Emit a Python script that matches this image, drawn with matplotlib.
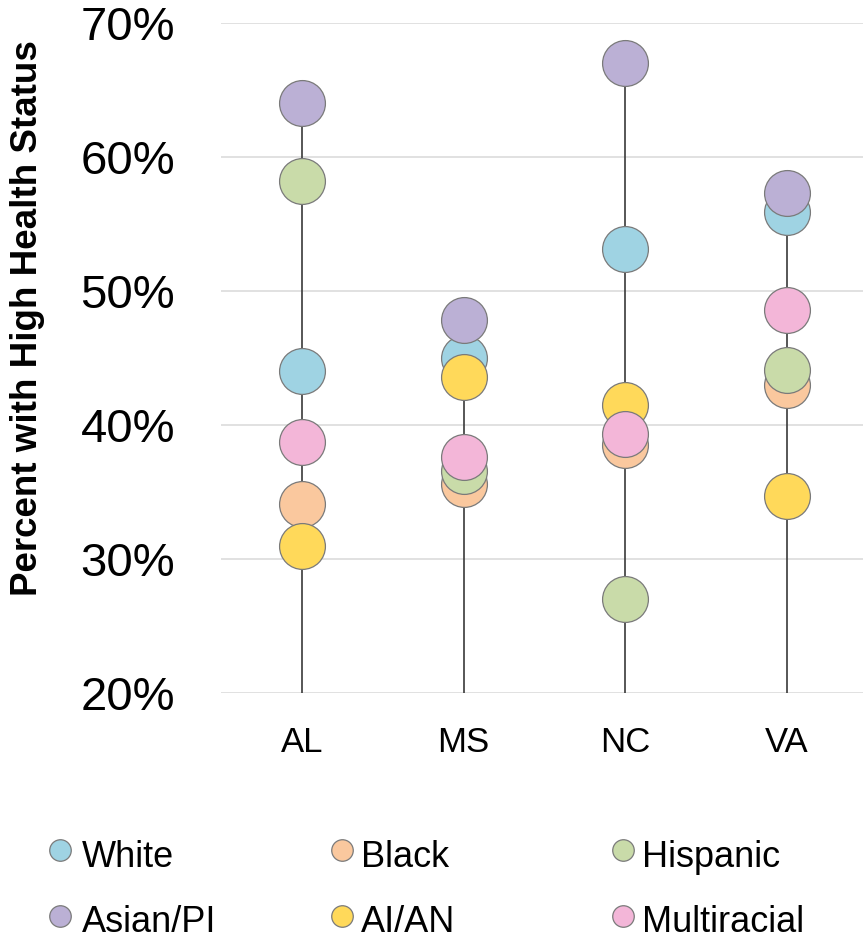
import matplotlib
matplotlib.use("Agg")
import matplotlib.pyplot as plt
from matplotlib.lines import Line2D

plt.rcParams['font.family'] = ['Liberation Sans', 'DejaVu Sans']

# States on the x axis
states = ["AL", "MS", "NC", "VA"]

# Percent with high health status, by race/ethnicity
white = [44.0, 45.0, 53.1, 55.9]
black = [34.1, 35.6, 38.5, 43.0]
hispanic = [58.2, 36.6, 27.0, 44.1]
asian_pi = [64.0, 47.8, 67.0, 57.3]
ai_an = [31.0, 43.6, 41.5, 34.7]
multiracial = [38.7, 37.6, 39.3, 48.6]

group_names = ["White", "Black", "Hispanic", "Asian/PI", "AI/AN", "Multiracial"]
group_values = [white, black, hispanic, asian_pi, ai_an, multiracial]
group_colors = ["#9fd3e3", "#fac89e", "#c9dba9", "#bbb0d5", "#ffd95a", "#f3b6d8"]

y_ticks = [20, 30, 40, 50, 60, 70]
y_tick_labels = ["20%", "30%", "40%", "50%", "60%", "70%"]

W, H = 863, 941
fig = plt.figure(figsize=(W / 100, H / 100), dpi=100)
ax = fig.add_axes([221 / W, 1 - 693 / H, 647 / W, 670 / H])

x = list(range(len(states)))

# horizontal gridlines
for t in y_ticks:
    ax.axhline(t, color="#d9d9d9", lw=1.1, zorder=0)

# high-low lines from the axis floor to the highest group in each state
tops = [max(vals) for vals in zip(*group_values)]
ax.vlines(x, y_ticks[0], tops, color="#3a3a3a", lw=1.2, zorder=1)

for i, (name, vals, col) in enumerate(zip(group_names, group_values, group_colors)):
    ax.plot(x, vals, linestyle="none", marker="o", markersize=33,
            markerfacecolor=col, markeredgecolor="#7a7a7a",
            markeredgewidth=0.9, zorder=2 + i, label=name)

ax.set_xlim(-0.5, len(states) - 0.5)
ax.set_ylim(y_ticks[0], y_ticks[-1])
ax.set_yticks(y_ticks)
ax.set_yticklabels(y_tick_labels)
ax.set_xticks(x)
ax.set_xticklabels(states)
ax.tick_params(axis="y", length=0, pad=33, labelsize=34)
ax.tick_params(axis="x", length=0, pad=24, labelsize=25)
for s in ax.spines.values():
    s.set_visible(False)

fig.text(28 / W, 1 - 318 / H, "Percent with High Health Status",
         rotation=90, ha="center", va="center", fontsize=26.5,
         fontweight="bold")

# legend: three columns, two rows
col_marker_x = [60, 342, 623]
col_text_x = [82, 361, 642]
row_marker_y = [850, 916]
row_base_y = [867, 932]
for k, (name, col) in enumerate(zip(group_names, group_colors)):
    r, c = divmod(k, 3)
    fig.add_artist(Line2D([col_marker_x[c] / W], [1 - row_marker_y[r] / H],
                          transform=fig.transFigure, linestyle="none",
                          marker="o", markersize=15.5, markerfacecolor=col,
                          markeredgecolor="#7a7a7a", markeredgewidth=0.9))
    fig.text(col_text_x[c] / W, 1 - row_base_y[r] / H, name,
             ha="left", va="baseline", fontsize=26)

fig.savefig("out.png", dpi=100)
